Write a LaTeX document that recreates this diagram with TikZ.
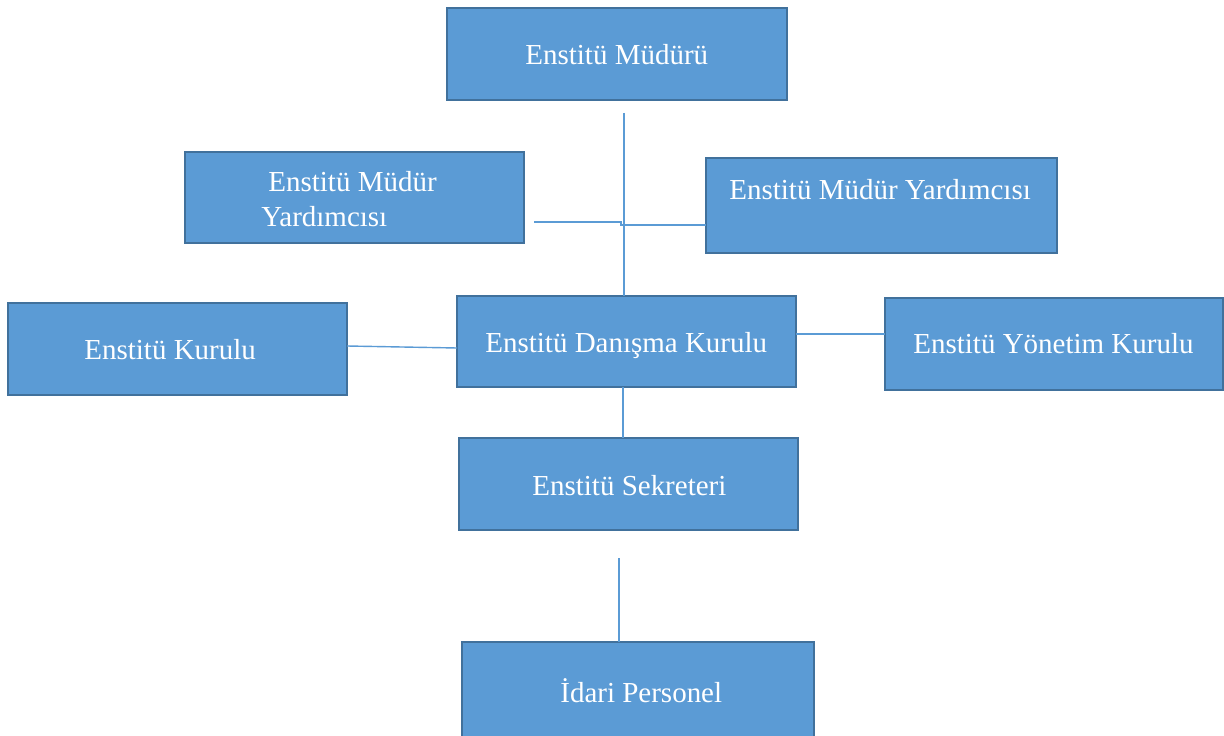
\documentclass[tikz,border=0pt]{standalone}
\usepackage{fontspec}
\setmainfont{Liberation Serif}
\definecolor{boxfill}{HTML}{5B9BD5}
\definecolor{boxedge}{HTML}{41719C}
\definecolor{conn}{HTML}{5B9BD5}
\tikzset{
  orgbox/.style={draw=boxedge, fill=boxfill, line width=1.6pt, inner sep=0pt, outer sep=0pt, anchor=north west},
  orgtext/.style={text=white, anchor=base west, inner sep=0pt, font=\fontsize{16.5}{20}\selectfont},
  link/.style={draw=conn, line width=0.8pt}
}
\begin{document}
\begin{tikzpicture}[x=0.02cm, y=-0.02cm]
\clip (0,0) rectangle (1224,736);
\fill[white] (0,0) rectangle (1224,736);
% boxes
\node[orgbox, minimum width=340*0.02cm, minimum height=92*0.02cm] (mud) at (447,8) {};
\node[orgbox, minimum width=339*0.02cm, minimum height=91*0.02cm] (ly) at (185,152) {};
\node[orgbox, minimum width=351*0.02cm, minimum height=95*0.02cm] (ry) at (706,158) {};
\node[orgbox, minimum width=339*0.02cm, minimum height=92*0.02cm] (kur) at (8,303) {};
\node[orgbox, minimum width=339*0.02cm, minimum height=91*0.02cm] (dan) at (457,296) {};
\node[orgbox, minimum width=338*0.02cm, minimum height=92*0.02cm] (yon) at (885,298) {};
\node[orgbox, minimum width=339*0.02cm, minimum height=92*0.02cm] (sek) at (459,438) {};
\node[orgbox, minimum width=352*0.02cm, minimum height=120*0.02cm] (ida) at (462,642) {};
% texts
\node[orgtext] (tmud) at (525,65) {Enstitü Müdürü};
\node[orgtext] (tly1) at (268,192) {Enstitü Müdür};
\node[orgtext] (tly2) at (261,227) {Yardımcısı};
\node[orgtext] (try) at (729,200) {Enstitü Müdür Yardımcısı};
\node[orgtext] (tkur) at (84,360) {Enstitü Kurulu};
\node[orgtext] (tdan) at (485,353) {Enstitü Danışma Kurulu};
\node[orgtext] (tyon) at (913,354) {Enstitü Yönetim Kurulu};
\node[orgtext] (tsek) at (532,496) {Enstitü Sekreteri};
\node[orgtext] (tida) at (560,702) {İdari Personel};
% connector ends
\coordinate (vtop) at (624,113);
\coordinate (hl) at (534,222);
\coordinate (hk1) at (621,222);
\coordinate (hk2) at (621,225);
\coordinate (stop) at (619,558);
% connectors
\draw[link] (vtop) -- (vtop |- dan.north);
\draw[link] (hl) -- (hk1) -- (hk2) -- (hk2 -| ry.west);
\draw[link] (kur.east |- 0,346) -- (dan.west |- 0,348);
\draw[link] (dan.east |- 0,334) -- (yon.west |- 0,334);
\draw[link] (dan.south -| 623,0) -- (sek.north -| 623,0);
\draw[link] (stop) -- (stop |- ida.north);
\end{tikzpicture}
\end{document}
